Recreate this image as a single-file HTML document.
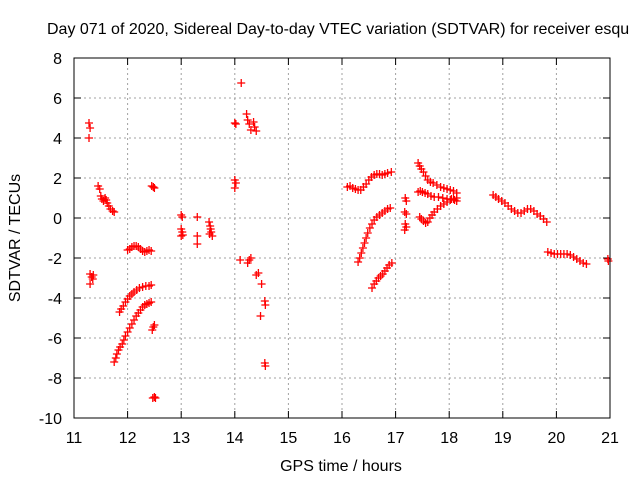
<!DOCTYPE html>
<html><head><meta charset="utf-8"><style>
body{margin:0;background:#fff;}
svg{display:block;font-family:"Liberation Sans",sans-serif;}
</style></head><body>
<svg id="chart" width="640" height="480">
<rect width="640" height="480" fill="#fff"/>
<text x="47" y="34" font-size="16" fill="#000">Day 071 of 2020, Sidereal Day-to-day VTEC variation (SDTVAR) for receiver esqu</text>
<g id="grid"></g><g id="ticks"></g><g id="marks"></g>
<rect x="74" y="58" width="536" height="360" fill="none" stroke="#000" stroke-width="1"/>
<text x="341" y="471" font-size="16" text-anchor="middle">GPS time / hours</text>
<text transform="translate(20,238) rotate(-90)" font-size="16" text-anchor="middle">SDTVAR / TECUs</text>
</svg>
<script>
const xTicks=[11,12,13,14,15,16,17,18,19,20,21];
const yTicks=[-10,-8,-6,-4,-2,0,2,4,6,8];
const ptsEarly=[[11.28,4.75],[11.3,4.5],[11.28,4.0],[11.3,-2.8],[11.33,-2.95],[11.35,-3.05],[11.3,-3.3],[11.36,-2.85],
[11.45,1.6],[11.48,1.45],[11.5,1.1],[11.52,0.95],[11.55,0.85],[11.58,1.0],[11.6,0.9],[11.62,0.75],[11.65,0.6],[11.68,0.45],[11.72,0.35],[11.75,0.3],
[11.75,-7.2],[11.78,-7.0],[11.8,-6.8],[11.83,-6.6],[11.86,-6.45],[11.9,-6.3],[11.93,-6.1],[11.96,-5.9],[12.0,-5.7],[12.04,-5.5],[12.08,-5.3],[12.12,-5.1],[12.16,-4.9],[12.2,-4.75],[12.24,-4.6],[12.28,-4.45],[12.32,-4.35],[12.36,-4.3],[12.4,-4.25],[12.44,-4.2],
[11.85,-4.7],[11.88,-4.55],[11.92,-4.4],[11.96,-4.2],[12.0,-4.05],[12.04,-3.9],[12.08,-3.8],[12.12,-3.7],[12.17,-3.6],[12.22,-3.5],[12.28,-3.45],[12.34,-3.4],[12.4,-3.4],[12.44,-3.35],
[12.0,-1.6],[12.04,-1.55],[12.08,-1.45],[12.12,-1.4],[12.16,-1.4],[12.2,-1.45],[12.24,-1.55],[12.28,-1.65],[12.32,-1.7],[12.36,-1.65],[12.4,-1.6],[12.44,-1.65],
[12.45,1.6],[12.48,1.55],[12.5,1.5],[12.46,-5.6],[12.48,-5.45],[12.5,-5.35],[12.47,-9.0],[12.5,-8.95],[12.52,-9.0]];
const ptsMid=[[13.0,0.15],[13.02,0.05],[13.0,-0.55],[13.02,-0.7],[13.03,-0.85],[13.0,-0.9],[13.3,0.05],[13.3,-0.9],[13.3,-1.3],
[13.52,-0.2],[13.54,-0.4],[13.55,-0.55],[13.56,-0.7],[13.53,-0.8],[13.58,-0.9],
[14.0,4.75],[14.02,4.7],[14.0,1.9],[14.02,1.75],[14.0,1.5],[14.12,6.75],[14.22,5.2],[14.24,4.9],[14.27,4.7],[14.3,4.4],[14.35,4.8],[14.37,4.55],[14.4,4.35],
[14.1,-2.1],[14.24,-2.25],[14.27,-2.1],[14.3,-2.0],[14.4,-2.85],[14.44,-2.75],[14.5,-3.3],[14.56,-4.15],[14.57,-4.35],[14.48,-4.9],[14.56,-7.25],[14.57,-7.4]];
const ptsLate=[[16.1,1.55],[16.15,1.6],[16.2,1.5],[16.25,1.45],[16.3,1.4],[16.35,1.4],[16.4,1.55],[16.45,1.7],[16.5,1.9],[16.55,2.05],[16.6,2.15],[16.65,2.2],[16.7,2.2],[16.75,2.15],[16.8,2.2],[16.85,2.25],[16.92,2.3],
[16.3,-2.2],[16.33,-2.0],[16.36,-1.75],[16.39,-1.5],[16.42,-1.25],[16.45,-1.0],[16.48,-0.75],[16.52,-0.5],[16.56,-0.3],[16.6,-0.1],[16.65,0.05],[16.7,0.15],[16.75,0.25],[16.8,0.35],[16.85,0.45],[16.9,0.5],
[16.56,-3.5],[16.6,-3.3],[16.64,-3.15],[16.68,-3.0],[16.72,-2.9],[16.76,-2.8],[16.8,-2.65],[16.84,-2.5],[16.88,-2.35],[16.93,-2.25],
[17.18,1.0],[17.2,0.85],[17.17,0.3],[17.2,0.2],[17.18,-0.3],[17.2,-0.45],[17.17,-0.6],
[17.42,2.75],[17.45,2.6],[17.48,2.45],[17.52,2.3],[17.56,2.1],[17.6,1.9],[17.65,1.8],[17.7,1.75],[17.77,1.65],[17.84,1.55],[17.9,1.5],[17.96,1.45],[18.02,1.4],[18.08,1.35],[18.14,1.25],
[17.42,1.3],[17.46,1.35],[17.5,1.3],[17.55,1.25],[17.6,1.2],[17.66,1.1],[17.72,1.05],[17.8,1.05],[17.88,1.0],[17.96,0.95],[18.04,0.95],[18.1,0.9],[18.14,0.85],
[17.45,0.05],[17.48,-0.05],[17.52,-0.15],[17.56,-0.25],[17.6,-0.2],[17.64,0.0],[17.68,0.15],[17.72,0.3],[17.78,0.45],[17.84,0.6],[17.9,0.7],[17.96,0.8],[18.02,0.9],[18.08,0.95],[18.14,1.0],
[18.82,1.15],[18.87,1.05],[18.92,0.95],[18.98,0.85],[19.04,0.75],[19.1,0.6],[19.16,0.45],[19.22,0.35],[19.28,0.25],[19.34,0.25],[19.4,0.35],[19.46,0.45],[19.52,0.45],[19.58,0.35],[19.64,0.2],[19.7,0.1],[19.76,-0.05],[19.82,-0.2],
[19.84,-1.7],[19.9,-1.75],[19.96,-1.8],[20.02,-1.8],[20.08,-1.8],[20.14,-1.8],[20.2,-1.8],[20.26,-1.85],[20.32,-1.95],[20.38,-2.05],[20.44,-2.15],[20.5,-2.25],[20.56,-2.3],[20.96,-2.05],[20.97,-2.15]];
const X0=74,X1=610,Y0=418,Y1=58;
function sx(v){return X0+(v-11)/(21-11)*(X1-X0);}
function sy(v){return Y0-(v+10)/(8+10)*(Y0-Y1);}
const NS='http://www.w3.org/2000/svg';
const grid=document.getElementById('grid'),ticks=document.getElementById('ticks'),marks=document.getElementById('marks');
function mk(t,a){const e=document.createElementNS(NS,t);for(const k in a)e.setAttribute(k,a[k]);return e;}
xTicks.forEach(v=>{const x=sx(v);
 if(v>11&&v<21){const g=mk('line',{x1:x,x2:x,y1:Y1,y2:Y0,stroke:'#a0a0a0','stroke-dasharray':'2,3'});
 
 grid.appendChild(g);}
 ticks.appendChild(mk('line',{x1:x,x2:x,y1:Y0,y2:Y0-7,stroke:'#000'}));
 ticks.appendChild(mk('line',{x1:x,x2:x,y1:Y1,y2:Y1+7,stroke:'#000'}));
 const l=mk('text',{x:x,y:Y0+25,'font-size':16,'text-anchor':'middle'});l.textContent=v;
 
 ticks.appendChild(l);});
yTicks.forEach(v=>{const y=sy(v);
 if(v>-10&&v<8){const g=mk('line',{x1:X0,x2:X1,y1:y,y2:y,stroke:'#a0a0a0','stroke-dasharray':'2,3'});
 
 grid.appendChild(g);}
 ticks.appendChild(mk('line',{x1:X0,x2:X0+7,y1:y,y2:y,stroke:'#000'}));
 ticks.appendChild(mk('line',{x1:X1,x2:X1-7,y1:y,y2:y,stroke:'#000'}));
 const l=mk('text',{x:X0-12,y:y+6,'font-size':16,'text-anchor':'end'});l.textContent=v;
 
 ticks.appendChild(l);});
[ptsEarly,ptsMid,ptsLate].forEach(arr=>arr.forEach(p=>{const x=sx(p[0]),y=sy(p[1]);
 const m=mk('path',{d:`M${x-4} ${y}H${x+4}M${x} ${y-4}V${y+4}`,stroke:'#ff0000','stroke-width':1.3,fill:'none'});
 
 marks.appendChild(m);}));
</script>
</body></html>
